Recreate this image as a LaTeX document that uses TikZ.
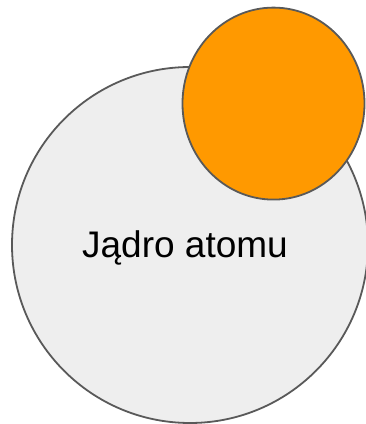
\documentclass[tikz,border=0pt]{standalone}
\usepackage{fontspec}
\setmainfont{Liberation Sans}
\usetikzlibrary{shapes.geometric}
\definecolor{nucfill}{HTML}{EEEEEE}
\definecolor{edgegray}{HTML}{595959}
\definecolor{orangefill}{HTML}{FF9900}
\begin{document}
\begin{tikzpicture}[x=1pt,y=1pt,
  shapeline/.style={draw=edgegray,line width=1.8pt,inner sep=0pt,outer sep=0pt},
  bigcirc/.style={shapeline,circle,fill=nucfill,minimum size=356pt},
  orangeell/.style={shapeline,ellipse,fill=orangefill,minimum width=182pt,minimum height=192pt},
  label/.style={font=\fontsize{37}{41}\selectfont,text=black,inner sep=0pt}]
\useasboundingbox (0,0) rectangle (366,424);
\node[bigcirc] (nucleus) at (190,179) {};
\node[orangeell] (particle) at (273.5,320.4) {};
\node[label,anchor=base] (title) at (185,166) {Jądro atomu};
\end{tikzpicture}
\end{document}
